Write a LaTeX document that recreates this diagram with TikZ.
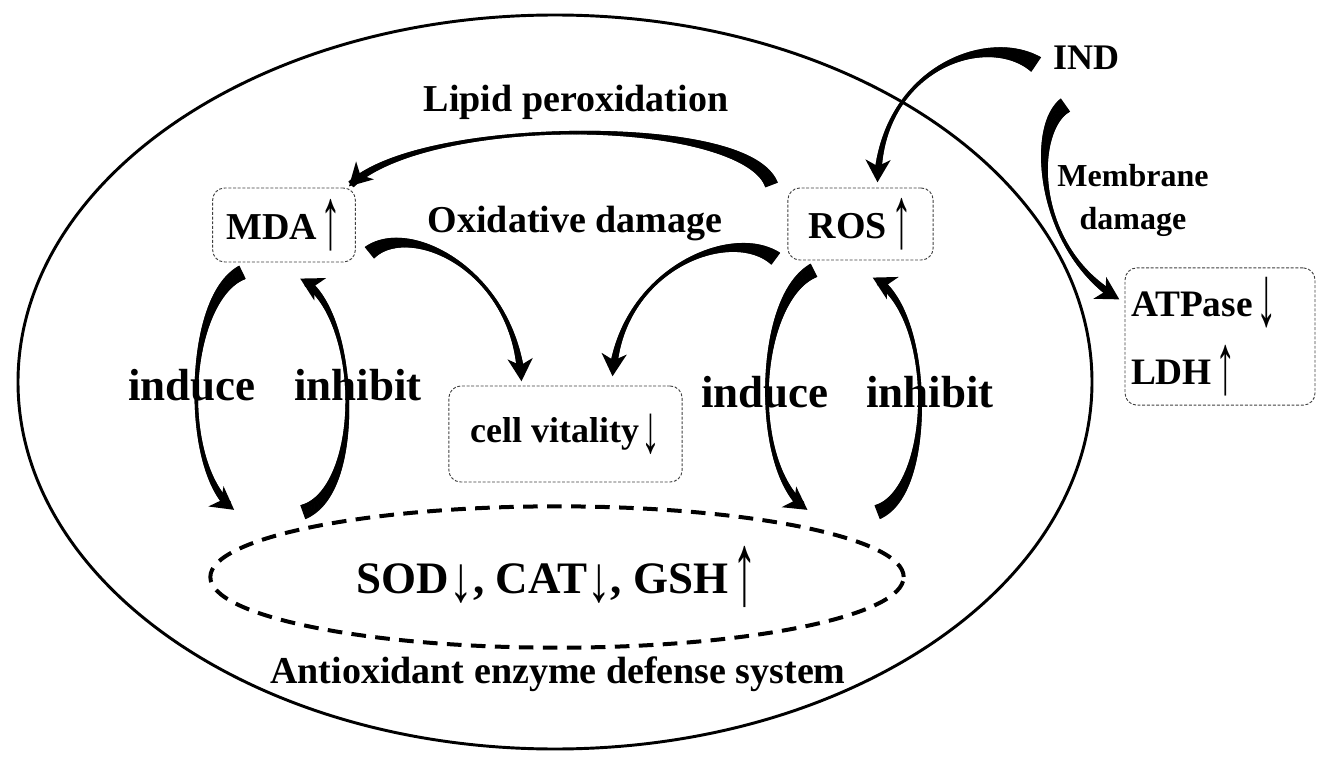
\documentclass[tikz,border=0pt]{standalone}
\usepackage{fontspec}
\usepackage{graphicx}
\setmainfont{Liberation Serif}
\usetikzlibrary{arrows.meta,decorations.markings,shapes.geometric,calc}
\newcommand\tup{\raisebox{-0.24em}{\scalebox{1.1}[2.3]{↑}}}
\newcommand\tdown{\raisebox{-0.24em}{\scalebox{1.1}[2.3]{↓}}}
\newcommand\sdown{\raisebox{-0.18em}{\scalebox{1.05}[1.45]{↓}}}
\newcommand\mdown{\raisebox{-0.28em}{\scalebox{1.05}[1.9]{↓}}}
\tikzset{
  flow/.style n args={3}{
    postaction={decorate, decoration={markings,
      mark=between positions 0 and -8pt step 0.45pt with {
        \pgfmathsetmacro\tpf{\pgfkeysvalueof{/pgf/decoration/mark info/distance from start}/\pgfdecoratedpathlength}
        \pgfmathsetmacro\tpr{max(0.8,#1*(1-\tpf)^3+3*(#2)*\tpf*(1-\tpf)+#3*\tpf^3)}
        \draw[black, solid, line width=0.9pt, -] (0pt,-\tpr pt) -- (0pt,\tpr pt);
      }}},
    postaction={decorate, decoration={markings,
      mark=at position -0.2pt with {
        \fill[black] (0pt,0pt) -- (-17pt,9.5pt) -- (-12pt,0pt) -- (-17pt,-9.5pt) -- cycle;
      }}}
    },
  box/.style={draw=black!75, dash pattern=on 2.2pt off 1.3pt, line width=0.7pt,
    rounded corners=9pt, inner sep=0pt},
  lbl/.style={font=\fontsize{28.5}{34}\selectfont\bfseries, inner sep=0pt},
  big/.style={font=\fontsize{33.75}{40}\selectfont\bfseries, inner sep=0pt},
  small/.style={font=\fontsize{24}{28}\selectfont\bfseries, inner sep=0pt},
  sodnode/.style={ellipse, draw, dash pattern=on 11pt off 7pt, line width=3pt,
    minimum width=520pt, minimum height=106pt, inner sep=0pt,
    font=\fontsize{33.75}{40}\selectfont\bfseries},
}
\begin{document}
\begin{tikzpicture}[x=0.75pt,y=-0.75pt]
\useasboundingbox (0,0) rectangle (1329,770);
% cell
\draw[line width=2.2pt] (555,382) ellipse [x radius=537, y radius=367];
% nodes
\node[box, lbl, minimum width=107pt, minimum height=55.5pt] (mda) at (284,225) {MDA\hspace{3pt}\tup};
\node[box, lbl, minimum width=109pt, minimum height=54pt] (ros) at (860.5,224) {ROS\hspace{3pt}\tup};
\node[box, font=\fontsize{27}{32}\selectfont\bfseries, minimum width=175pt, minimum height=72pt] (cell) at (565.5,434) {cell vitality\hspace{2pt}\mdown};
\node[box, font=\fontsize{28}{51}\selectfont\bfseries, align=left, text width=133.5pt, inner xsep=4.5pt, minimum height=103pt] (atp) at (1220,336.5) {ATPase\hspace{3pt}\tdown\\LDH\hspace{3pt}\tup};
\node[sodnode] (sod) at (557,577) {SOD\sdown, CAT\sdown, GSH\hspace{3pt}\tup};
\node[lbl, anchor=base] (lipid) at (576,112) {Lipid peroxidation};
\node[lbl, anchor=base] (oxid) at (575,233) {Oxidative damage};
\node[big, anchor=base] (ind1) at (192,400) {induce};
\node[big, anchor=base] (inh1) at (358,400) {inhibit};
\node[big, anchor=base] (ind2) at (765,407) {induce};
\node[big, anchor=base] (inh2) at (930,407) {inhibit};
\node[lbl, anchor=base] (anti) at (558,683) {Antioxidant enzyme defense system};
\node[font=\fontsize{27}{32}\selectfont\bfseries, inner sep=0pt, anchor=base] (ind) at (1086,70) {IND};
\node[small, anchor=base] (mem1) at (1133,187) {Membrane};
\node[small, anchor=base] (mem2) at (1133,230) {damage};
% connectors
\path[flow={5}{0.3}{3}] ($(ros.north west)+(-16,-3)$) .. controls (745,115) and (420,115) .. ($(mda.north east)+(-7,-1)$);
\path[flow={6.5}{0.3}{3}] ($(ind.west)+(-17,6)$) .. controls (985,30) and (880,70) .. ($(ros.north)+(17,-5)$);
\path[flow={6}{0.3}{3.2}] ($(ind.south)+(-21,35)$) .. controls (1030,130) and (1035,250) .. ($(atp.west)+(-5,-37)$);
\path[flow={5.5}{0.3}{3.2}] ($(mda.south east)+(14,-10)$) .. controls (410,220) and (515,270) .. ($(cell.north)+(-44,-4)$);
\path[flow={5.5}{0.3}{3.2}] ($(ros.south west)+(-12,-2)$) .. controls (730,225) and (620,270) .. ($(cell.north)+(47,-9)$);
\path[flow={5.5}{0.3}{3.2}] ($(mda.south)+(-42,10)$) .. controls (185,300) and (180,470) .. ($(sod.west)+(26,-67)$);
\path[flow={5.5}{0.3}{3.2}] ($(sod.west)+(95,-65)$) .. controls (365,490) and (360,310) .. ($(mda.south)+(16,16)$);
\path[flow={5.5}{0.3}{3.2}] ($(ros.south)+(-47,10)$) .. controls (755,300) and (750,470) .. ($(sod.east)+(-98,-67)$);
\path[flow={5.5}{0.3}{3.2}] ($(sod.east)+(-28,-65)$) .. controls (935,490) and (935,310) .. ($(ros.south)+(12,17)$);
\end{tikzpicture}
\end{document}
